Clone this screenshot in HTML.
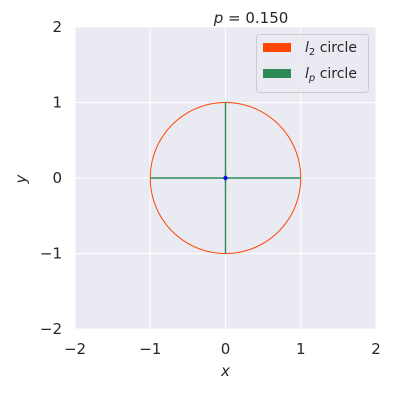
<!DOCTYPE html>
<html><head><style>
body{margin:0;background:#fff;}
svg text{font-family:"DejaVu Sans","Liberation Sans",sans-serif;fill:#262626;}
</style></head><body>
<svg id="chart" width="400" height="400">
<rect x="75" y="27" width="301" height="302" fill="#eaeaf2"/>
<g id="grid"></g>
<g id="ticks"></g>
<path id="l2" fill="none" stroke="#ff4500" stroke-width="1"/>
<path id="lp" fill="#2e8b57" stroke="#2e8b57" stroke-width="1.4" stroke-linejoin="round"/>
<circle id="origin" r="2" fill="#0000ff"/>
<text x="251" y="23" font-size="15" text-anchor="middle"><tspan font-style="italic">p</tspan> = 0.150</text>
<text x="225.5" y="376" font-size="15" font-style="italic" text-anchor="middle">x</text>
<text x="26" y="179" font-size="15" font-style="italic" text-anchor="middle" transform="rotate(-90 26 179)">y</text>
<g>
<rect x="256.5" y="34.5" width="112" height="58" rx="3" fill="#eaeaf2" fill-opacity="0.8" stroke="#cccccc"/>
<rect x="263" y="43" width="28" height="9" fill="#ff4500"/>
<text x="305" y="52" font-size="14"><tspan font-style="italic">l</tspan><tspan font-size="10" dy="3">2</tspan><tspan dy="-3"> circle</tspan></text>
<rect x="263" y="69" width="28" height="9" fill="#2e8b57"/>
<text x="305" y="78" font-size="14"><tspan font-style="italic">l</tspan><tspan font-size="10" dy="3" font-style="italic">p</tspan><tspan dy="-3"> circle</tspan></text>
</g>
</svg>
<script>
const xTicks=[-2,-1,0,1,2];
const yTicks=[-2,-1,0,1,2];
const pValue=[0.15];
const radius=[1];
const X0=75,X1=376,Y0=329,Y1=27;
const sx=v=>X0+(v+2)/4*(X1-X0);
const sy=v=>Y0-(v+2)/4*(Y0-Y1);
const ns="http://www.w3.org/2000/svg";
const grid=document.getElementById('grid'),ticks=document.getElementById('ticks');
xTicks.forEach(t=>{
 const l=document.createElementNS(ns,'line');
 l.setAttribute('x1',sx(t));l.setAttribute('x2',sx(t));l.setAttribute('y1',Y1);l.setAttribute('y2',Y0);
 l.setAttribute('stroke','#fff');l.setAttribute('stroke-width','1');
 
 
 grid.appendChild(l);
 const tx=document.createElementNS(ns,'text');
 tx.setAttribute('x',sx(t));tx.setAttribute('y',354);tx.setAttribute('font-size','15');tx.setAttribute('text-anchor','middle');
 tx.textContent=t<0?'\u2212'+(-t):String(t);
 
 
 ticks.appendChild(tx);
});
yTicks.forEach(t=>{
 const l=document.createElementNS(ns,'line');
 l.setAttribute('y1',sy(t));l.setAttribute('y2',sy(t));l.setAttribute('x1',X0);l.setAttribute('x2',X1);
 l.setAttribute('stroke','#fff');l.setAttribute('stroke-width','1');
 
 
 grid.appendChild(l);
 const tx=document.createElementNS(ns,'text');
 tx.setAttribute('x',62);tx.setAttribute('y',sy(t)+5);tx.setAttribute('font-size','15');tx.setAttribute('text-anchor','end');
 tx.textContent=t<0?'\u2212'+(-t):String(t);
 
 
 ticks.appendChild(tx);
});
const r=radius[0],p=pValue[0];
let d2='',dp='';
for(let i=0;i<=720;i++){
 const a=i/720*2*Math.PI,c=Math.cos(a),s=Math.sin(a);
 d2+=(i?'L':'M')+sx(r*c).toFixed(2)+' '+sy(r*s).toFixed(2);
}
const N=100;
for(let i=0;i<N;i++){
 const a=(i+0.5)/N*2*Math.PI,c=Math.cos(a),s=Math.sin(a);
 const px=r*Math.sign(c)*Math.pow(Math.abs(c),2/p),py=r*Math.sign(s)*Math.pow(Math.abs(s),2/p);
 dp+=(i?'L':'M')+sx(px).toFixed(2)+' '+sy(py).toFixed(2);
}
document.getElementById('l2').setAttribute('d',d2+'Z');
document.getElementById('lp').setAttribute('d',dp+'Z');
const o=document.getElementById('origin');o.setAttribute('cx',sx(0));o.setAttribute('cy',sy(0));
</script>
</body></html>
